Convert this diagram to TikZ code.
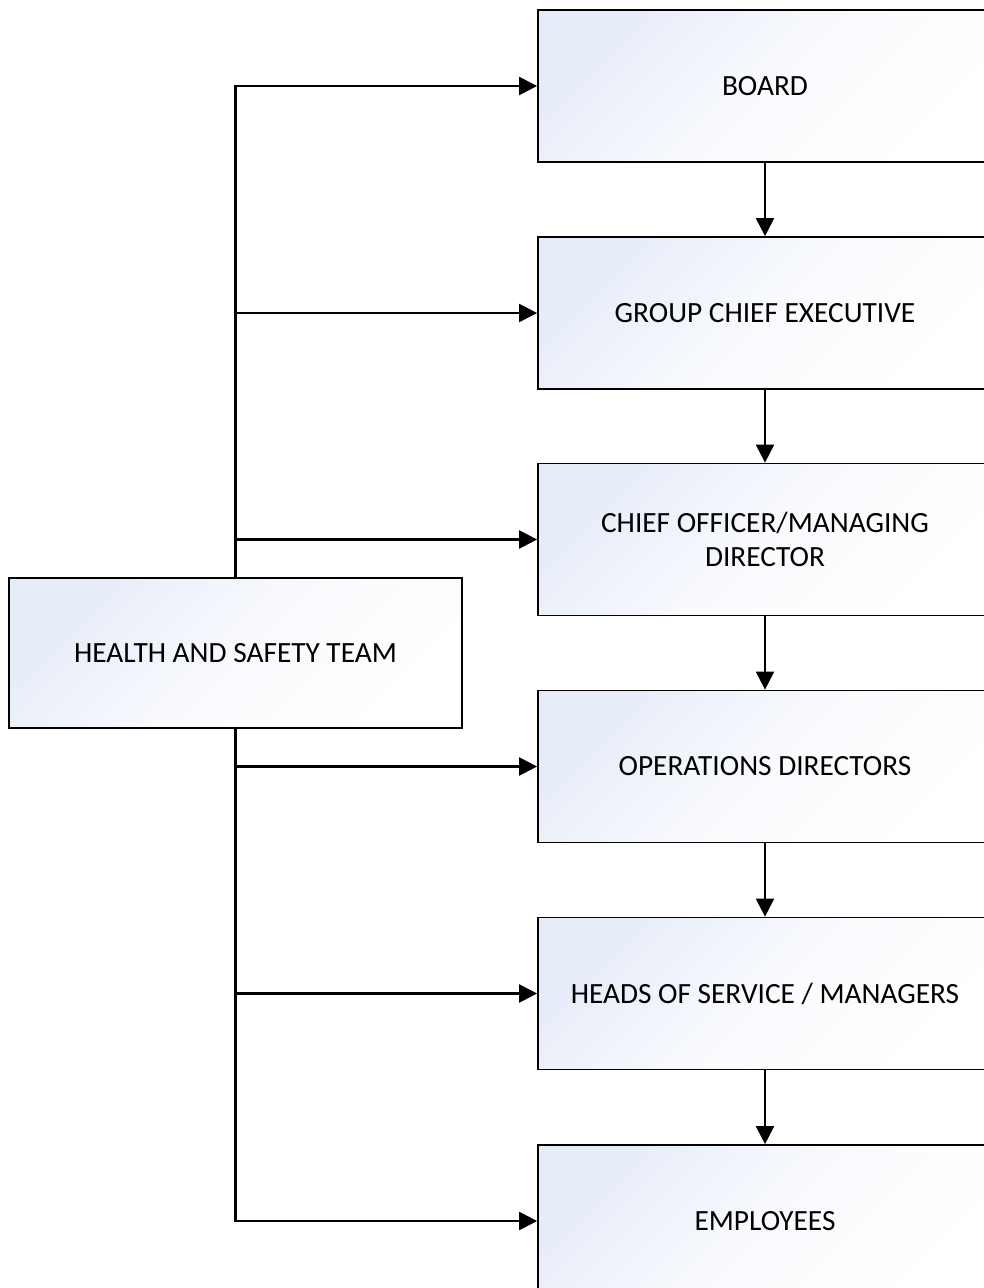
\documentclass[tikz,border=0pt]{standalone}
\usepackage{fontspec}
\setmainfont{Carlito}
\usetikzlibrary{arrows.meta}
\definecolor{gtop}{RGB}{230,236,248}
\tikzset{
  box/.style={draw=black, line width=1.3pt, top color=gtop, bottom color=white,
    middle color=gtop!25!white, shading angle=45,
    minimum width=340.5pt, minimum height=114pt, align=center, inner sep=0pt,
    font=\fontsize{22}{25.5}\selectfont},
  conn/.style={line width=1.6pt, -{Triangle[length=13.5pt,width=13.5pt]}}
}
\begin{document}
\begin{tikzpicture}[x=0.75pt,y=-0.75pt]
\useasboundingbox (0,0) rectangle (984,1288);
\begin{scope}
\clip (0,0) rectangle (984,1288);
\node[box] (b1) at (765,86) {BOARD};
\node[box] (b2) at (765,313) {GROUP CHIEF EXECUTIVE};
\node[box] (b3) at (765,539.5) {CHIEF OFFICER/MANAGING\\DIRECTOR};
\node[box] (b4) at (765,766.5) {OPERATIONS DIRECTORS};
\node[box] (b5) at (765,993.5) {HEADS OF SERVICE / MANAGERS};
\node[box] (b6) at (765,1221) {EMPLOYEES};
\node[box, minimum width=339.75pt, minimum height=112.5pt] (hs) at (235.5,653) {HEALTH AND SAFETY TEAM};
\end{scope}
\draw[conn] (b1) -- (b2);
\draw[conn] (b2) -- (b3);
\draw[conn] (b3) -- (b4);
\draw[conn] (b4) -- (b5);
\draw[conn] (b5) -- (b6);
\draw[conn] (hs.north) |- (b1.west);
\draw[conn] (hs.north) |- (b2.west);
\draw[conn] (hs.north) |- (b3.west);
\draw[conn] (hs.south) |- (b4.west);
\draw[conn] (hs.south) |- (b5.west);
\draw[conn] (hs.south) |- (b6.west);
\end{tikzpicture}
\end{document}
